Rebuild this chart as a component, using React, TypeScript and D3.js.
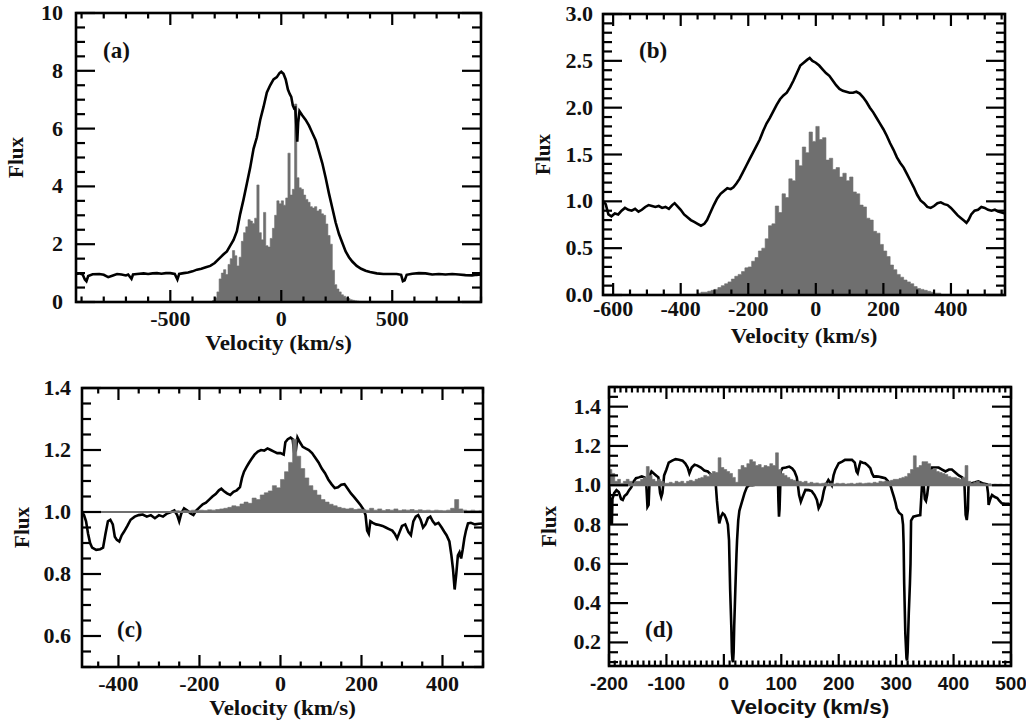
import React from 'react'
import * as d3 from 'd3'

type Pt = [number, number]

// ---- panel (a) ----
const aLine: Pt[] = [
  [-925, 0.97], [-910, 0.99], [-895, 0.95], [-885, 0.78], [-878, 0.72], [-870, 0.9], [-850, 0.96], [-820, 0.97],
  [-800, 0.94], [-780, 0.86], [-765, 0.9], [-740, 0.97], [-720, 0.95], [-700, 0.92], [-690, 0.95], [-675, 0.8],
  [-668, 0.95], [-650, 0.97], [-620, 0.99], [-600, 0.97], [-580, 0.99], [-560, 1.0], [-540, 0.98], [-520, 1.0],
  [-500, 1.0], [-480, 0.97], [-468, 0.78], [-460, 0.97], [-440, 1.0], [-420, 1.02], [-400, 1.06], [-380, 1.12],
  [-360, 1.15], [-340, 1.2], [-320, 1.25], [-300, 1.35], [-280, 1.5], [-260, 1.65], [-245, 1.75], [-230, 1.95],
  [-215, 2.15], [-200, 2.45], [-185, 3.05], [-170, 3.55], [-155, 4.1], [-140, 4.65], [-125, 5.3], [-110, 5.7],
  [-95, 6.3], [-80, 6.75], [-65, 7.25], [-50, 7.5], [-35, 7.7], [-20, 7.78], [-8, 7.92], [0, 7.97], [10, 7.9],
  [20, 7.7], [30, 7.35], [38, 7.2], [45, 7.1], [52, 6.8], [58, 6.7], [63, 6.72], [68, 6.1], [72, 5.55], [76, 6.2],
  [82, 6.6], [95, 6.45], [110, 6.3], [125, 6.1], [140, 5.85], [155, 5.6], [170, 5.2], [185, 4.8], [200, 4.3],
  [215, 3.75], [230, 3.25], [245, 2.75], [260, 2.35], [275, 2.05], [290, 1.75], [305, 1.55], [320, 1.4],
  [340, 1.25], [360, 1.15], [380, 1.08], [400, 1.04], [430, 0.99], [460, 0.97], [490, 0.97], [520, 0.97],
  [540, 0.94], [548, 0.72], [556, 0.75], [565, 0.94], [590, 0.98], [620, 1.0], [650, 0.99], [680, 0.95],
  [710, 0.97], [740, 0.95], [770, 0.97], [800, 0.95], [830, 0.93], [860, 0.92], [880, 0.94], [900, 0.95],
]
const aHistStart = -310
const aHistStep = 10
const aHist = [
  0.05, 0.15, 0.35, 0.8, 1.0, 1.12, 0.95, 1.3, 1.5, 1.78, 1.6, 1.25, 1.55, 2.1, 2.4, 2.6, 2.85, 2.8, 2.72, 2.9,
  4.05, 2.4, 2.15, 3.1, 1.95, 1.9, 2.2, 2.55, 3.0, 3.5, 3.4, 3.5, 3.35, 3.6, 5.15, 3.7, 3.9, 6.85, 4.3, 3.95,
  3.9, 3.7, 3.55, 3.45, 3.3, 3.25, 3.3, 3.15, 3.2, 3.05, 3.0, 2.7, 2.3, 2.0, 1.1, 0.6, 0.45, 0.35, 0.25, 0.2,
  0.15, 0.12, 0.08, 0.06, 0.04, 0.03, 0.02, 0.01,
]
const aXTicks = [-500, 0, 500]
const aYTicks = [0, 2, 4, 6, 8, 10]

// ---- panel (b) ----
const bLine: Pt[] = [
  [-630, 1.0], [-622, 0.97], [-614, 0.86], [-605, 0.84], [-595, 0.87], [-585, 0.86], [-575, 0.9], [-565, 0.93],
  [-555, 0.91], [-545, 0.9], [-535, 0.92], [-525, 0.89], [-515, 0.91], [-505, 0.94], [-495, 0.96], [-485, 0.95],
  [-475, 0.94], [-465, 0.95], [-455, 0.93], [-445, 0.94], [-435, 0.92], [-425, 0.96], [-418, 0.98], [-410, 0.95],
  [-400, 0.91], [-390, 0.86], [-380, 0.83], [-370, 0.8], [-360, 0.78], [-350, 0.76], [-340, 0.74], [-330, 0.76],
  [-322, 0.8], [-312, 0.88], [-302, 0.96], [-292, 1.03], [-282, 1.08], [-272, 1.11], [-262, 1.14], [-252, 1.13],
  [-244, 1.15], [-235, 1.19], [-226, 1.24], [-216, 1.31], [-206, 1.38], [-196, 1.45], [-186, 1.52], [-176, 1.59],
  [-166, 1.66], [-156, 1.75], [-146, 1.83], [-136, 1.89], [-126, 1.96], [-116, 2.03], [-106, 2.09], [-96, 2.13],
  [-86, 2.16], [-76, 2.22], [-66, 2.29], [-56, 2.37], [-46, 2.45], [-36, 2.48], [-26, 2.51], [-18, 2.53],
  [-10, 2.5], [0, 2.48], [10, 2.45], [20, 2.41], [30, 2.37], [40, 2.34], [50, 2.29], [60, 2.24], [70, 2.2],
  [80, 2.18], [90, 2.17], [100, 2.16], [110, 2.16], [120, 2.17], [130, 2.15], [140, 2.11], [150, 2.06],
  [160, 2.0], [170, 1.95], [180, 1.89], [190, 1.83], [200, 1.77], [210, 1.7], [220, 1.62], [230, 1.55],
  [240, 1.47], [250, 1.41], [260, 1.36], [270, 1.29], [280, 1.22], [290, 1.15], [300, 1.07], [310, 1.01],
  [320, 0.98], [330, 0.94], [340, 0.93], [350, 0.95], [360, 0.98], [370, 0.99], [380, 0.97], [390, 0.96],
  [400, 0.93], [410, 0.89], [420, 0.85], [430, 0.82], [440, 0.79], [446, 0.77], [452, 0.8], [460, 0.86],
  [470, 0.9], [480, 0.91], [490, 0.94], [500, 0.93], [510, 0.91], [520, 0.9], [530, 0.91], [540, 0.89],
  [550, 0.88], [560, 0.87],
]
const bHistStart = -350
const bHistStep = 10
const bHist = [
  0.02, 0.03, 0.03, 0.04, 0.05, 0.06, 0.08, 0.1, 0.12, 0.14, 0.17, 0.2, 0.22, 0.25, 0.29,
  0.3, 0.36, 0.4, 0.47, 0.5, 0.6, 0.74, 0.76, 0.95, 0.88, 1.08, 1.04, 1.24, 1.22, 1.44,
  1.38, 1.58, 1.52, 1.74, 1.64, 1.8, 1.66, 1.68, 1.44, 1.46, 1.34, 1.36, 1.26, 1.3, 1.22,
  1.26, 1.1, 1.08, 0.96, 0.94, 0.82, 0.8, 0.68, 0.66, 0.54, 0.47, 0.41, 0.32, 0.27, 0.22,
  0.19, 0.16, 0.14, 0.12, 0.09, 0.07, 0.06, 0.05, 0.04, 0.03, 0.02, 0.02,
]
const bXTicks = [-600, -400, -200, 0, 200, 400]
const bYTicks = [0, 0.5, 1.0, 1.5, 2.0, 2.5, 3.0]

// ---- panel (c) ----
const cLine: Pt[] = [
  [-490, 1.0], [-485, 0.99], [-480, 0.97], [-475, 0.93], [-470, 0.9], [-465, 0.885], [-455, 0.878], [-445, 0.88],
  [-438, 0.885], [-432, 0.93], [-426, 0.97], [-420, 0.975], [-414, 0.96], [-409, 0.92], [-404, 0.91], [-398, 0.905],
  [-392, 0.925], [-386, 0.937], [-378, 0.955], [-370, 0.975], [-360, 0.985], [-350, 0.99], [-340, 0.992],
  [-330, 0.985], [-320, 0.99], [-310, 0.98], [-300, 0.99], [-290, 0.985], [-280, 0.995], [-270, 1.0],
  [-262, 1.005], [-255, 0.99], [-250, 0.97], [-245, 0.995], [-238, 1.012], [-230, 1.005], [-222, 0.995],
  [-215, 0.99], [-208, 1.005], [-200, 1.015], [-192, 1.025], [-184, 1.03], [-176, 1.04], [-168, 1.05],
  [-160, 1.058], [-152, 1.07], [-146, 1.075], [-140, 1.068], [-132, 1.06], [-124, 1.055], [-116, 1.065],
  [-108, 1.07], [-100, 1.08], [-95, 1.11], [-90, 1.13], [-84, 1.145], [-78, 1.158], [-72, 1.17], [-64, 1.185],
  [-56, 1.195], [-48, 1.2], [-40, 1.198], [-32, 1.205], [-24, 1.2], [-16, 1.195], [-8, 1.19], [0, 1.19],
  [8, 1.185], [12, 1.225], [18, 1.235], [25, 1.24], [30, 1.235], [34, 1.19], [38, 1.2], [42, 1.24], [48, 1.225],
  [55, 1.21], [62, 1.205], [70, 1.2], [78, 1.19], [86, 1.175], [94, 1.16], [102, 1.14], [110, 1.125],
  [118, 1.105], [126, 1.09], [134, 1.077], [142, 1.08], [150, 1.088], [158, 1.09], [166, 1.075], [174, 1.06],
  [182, 1.048], [190, 1.035], [198, 1.022], [205, 1.008], [210, 0.99], [214, 0.94], [218, 0.93], [222, 0.97],
  [228, 0.965], [236, 0.96], [244, 0.958], [252, 0.955], [260, 0.95], [268, 0.945], [276, 0.94], [282, 0.93],
  [288, 0.915], [294, 0.935], [300, 0.955], [308, 0.96], [316, 0.935], [322, 0.925], [328, 0.97], [334, 0.985],
  [340, 0.99], [346, 0.975], [352, 0.95], [358, 0.96], [364, 0.98], [370, 0.985], [376, 0.97], [382, 0.96],
  [390, 0.965], [398, 0.95], [404, 0.937], [410, 0.925], [417, 0.905], [422, 0.86], [426, 0.815], [430, 0.75],
  [434, 0.8], [438, 0.86], [442, 0.87], [446, 0.85], [450, 0.88], [454, 0.915], [458, 0.94], [463, 0.963],
  [470, 0.965], [480, 0.96], [490, 0.962], [500, 0.963],
]
const cHistStart = -270
const cHistStep = 10
const cHist = [
  1.003, 1.004, 1.003, 1.005, 1.004, 1.006, 1.005, 1.006, 1.005, 1.007,
  1.006, 1.008, 1.01, 1.012, 1.015, 1.02, 1.018, 1.026, 1.032, 1.028,
  1.045, 1.04, 1.055, 1.062, 1.068, 1.085, 1.078, 1.105, 1.13, 1.16,
  1.235, 1.18, 1.14, 1.11, 1.085, 1.07, 1.055, 1.04, 1.032, 1.025,
  1.02, 1.015, 1.012, 1.01, 1.012, 1.008, 1.01, 1.008, 1.006, 1.012,
  1.006, 1.01, 1.005, 1.008, 1.006, 1.01, 1.005, 1.007, 1.006, 1.008,
  1.005, 1.007, 1.005, 1.006, 1.004, 1.006, 1.005, 1.004, 1.006, 1.012,
  1.04, 1.01, 1.006, 1.004, 1.006, 1.004, 1.005,
]
const cXTicks = [-400, -200, 0, 200, 400]
const cYTicks = [0.6, 0.8, 1.0, 1.2, 1.4]

// ---- panel (d) ----
const dLine: Pt[] = [
  [-200, 1.0], [-198, 0.93], [-197, 0.8], [-196, 0.85], [-195, 0.8], [-194, 0.93], [-191, 0.96], [-187, 0.975],
  [-183, 0.965], [-179, 0.93], [-176, 0.925], [-173, 0.945], [-169, 0.955], [-165, 0.975], [-161, 0.99],
  [-157, 1.02], [-153, 1.036], [-148, 1.04], [-143, 1.045], [-138, 1.04], [-135, 1.0], [-133, 0.89], [-131, 0.9],
  [-129, 1.05], [-126, 1.07], [-122, 1.06], [-118, 1.05], [-114, 1.04], [-111, 0.96], [-109, 0.94], [-107, 0.96],
  [-104, 1.05], [-100, 1.08], [-96, 1.115], [-90, 1.125], [-84, 1.133], [-78, 1.13], [-72, 1.125], [-67, 1.11],
  [-63, 1.09], [-60, 1.061], [-56, 1.09], [-51, 1.104], [-46, 1.1], [-40, 1.09], [-34, 1.075], [-28, 1.07],
  [-22, 1.053], [-17, 1.04], [-14, 1.0], [-12, 0.92], [-10, 0.86], [-8, 0.806], [-5, 0.84], [-2, 0.857],
  [1, 0.85], [4, 0.83], [7, 0.8], [9, 0.72], [11, 0.465], [13, 0.28], [14, 0.15], [15, 0.11], [16, 0.1],
  [17, 0.15], [18, 0.28], [20, 0.47], [22, 0.65], [23, 0.72], [25, 0.82], [27, 0.87], [31, 0.91], [36, 0.96],
  [40, 0.99], [44, 1.0], [50, 1.0], [60, 1.005], [70, 1.01], [80, 1.03], [86, 1.06], [90, 1.07], [94, 1.06],
  [95, 0.92], [96, 0.84], [97, 0.88], [99, 1.07], [102, 1.087], [108, 1.09], [114, 1.095], [119, 1.085],
  [123, 1.07], [127, 1.04], [129, 1.0], [131, 0.95], [134, 0.916], [137, 0.94], [142, 0.976], [148, 0.975],
  [153, 0.97], [158, 0.95], [162, 0.925], [165, 0.883], [168, 0.9], [171, 0.925], [174, 0.97], [177, 1.0],
  [182, 1.027], [186, 1.01], [188, 1.0], [191, 1.05], [194, 1.078], [200, 1.112], [206, 1.12], [211, 1.129],
  [217, 1.13], [223, 1.129], [228, 1.115], [231, 1.07], [233, 1.061], [236, 1.1], [238, 1.12], [242, 1.115],
  [246, 1.112], [251, 1.1], [255, 1.087], [258, 1.06], [261, 1.044], [265, 1.045], [269, 1.044], [275, 1.04],
  [281, 1.036], [286, 1.02], [290, 1.0], [293, 0.97], [296, 0.942], [299, 0.91], [301, 0.883], [305, 0.86],
  [310, 0.848], [312, 0.8], [313, 0.704], [314, 0.5], [316, 0.244], [318, 0.12], [319, 0.108], [320, 0.15],
  [322, 0.347], [324, 0.5], [325, 0.6], [326, 0.82], [330, 0.84], [336, 0.845], [342, 0.848], [344, 0.95],
  [345, 1.0], [348, 1.0], [350, 0.93], [352, 0.92], [354, 0.95], [356, 1.0], [360, 1.07], [362, 1.09],
  [368, 1.09], [374, 1.09], [380, 1.08], [386, 1.07], [392, 1.08], [397, 1.08], [403, 1.065], [409, 1.05],
  [415, 1.04], [419, 1.0], [421, 0.85], [423, 0.823], [425, 0.88], [426, 1.0], [432, 1.01], [438, 1.015],
  [443, 1.02], [450, 1.01], [458, 1.005], [460, 0.96], [461, 0.9], [464, 0.93], [467, 0.95], [472, 0.94],
  [476, 0.935], [480, 0.92], [484, 0.908], [490, 0.905], [496, 0.905], [500, 0.9],
]
const dHistStart = -200
const dHistStep = 5
const dHist = [
  1.08, 1.06, 1.02, 1.03, 1.01, 1.02, 1.03, 1.02, 1.01, 1.02,
  1.02, 1.03, 1.04, 1.095, 1.05, 1.03, 1.02, 1.03, 1.02, 1.01,
  1.01, 1.015, 1.01, 1.02, 1.015, 1.02, 1.01, 1.02, 1.025, 1.02,
  1.03, 1.035, 1.04, 1.05, 1.045, 1.06, 1.07, 1.065, 1.14, 1.09,
  1.08, 1.07, 1.06, 1.04, 1.015, 1.08, 1.1, 1.09, 1.11, 1.13,
  1.12, 1.1, 1.105, 1.09, 1.1, 1.095, 1.11, 1.1, 1.165, 1.08,
  1.06, 1.05, 1.04, 1.03, 1.025, 1.02, 1.02, 1.015, 1.02, 1.01,
  1.015, 1.01, 1.012, 1.008, 1.01, 1.012, 1.008, 1.01, 1.006, 1.01,
  1.008, 1.01, 1.006, 1.008, 1.01, 1.006, 1.01, 1.012, 1.008, 1.01,
  1.012, 1.01, 1.015, 1.012, 1.02, 1.018, 1.022, 1.02, 1.025, 1.03,
  1.03, 1.035, 1.04, 1.045, 1.06, 1.08, 1.15, 1.09, 1.1, 1.12,
  1.12, 1.11, 1.08, 1.085, 1.07, 1.065, 1.06, 1.055, 1.045, 1.04,
  1.04, 1.035, 1.03, 1.04, 1.1, 1.02, 1.01, 1.015, 1.02, 1.01,
  1.008, 1.006, 1.008, 1.005, 1.006, 1.005, 1.006, 1.004, 1.005, 1.004,
]
const dXTicks = [-200, -100, 0, 100, 200, 300, 400, 500]
const dYTicks = [0.2, 0.4, 0.6, 0.8, 1.0, 1.2, 1.4]

const SERIF = "'Liberation Serif', 'Times New Roman', serif"
const SANS = "'Liberation Sans', Arial, sans-serif"
const GRAY = '#6f6f6f'
const INK = '#111'

type PanelCfg = {
  id: string
  label: string
  box: { x0: number; y0: number; x1: number; y1: number }
  xDomain: [number, number]
  yDomain: [number, number]
  xTicks: number[]
  xMinor: number
  yTicks: number[]
  yMinor: number
  yFmt: (v: number) => string
  line: Pt[]
  hist: number[]
  histStart: number
  histStep: number
  histBase: number
  grayOnTop: boolean
  sans: boolean
  labelAt: [number, number]
  yGap: number
  xGap: number
}

const PANELS: PanelCfg[] = [
  {
    id: 'a', label: '(a)', box: { x0: 76, y0: 13, x1: 481, y1: 302 },
    xDomain: [-925, 900], yDomain: [0, 10], xTicks: aXTicks, xMinor: 100, yTicks: aYTicks, yMinor: 0.5,
    yFmt: v => String(v), line: aLine, hist: aHist, histStart: aHistStart, histStep: aHistStep, histBase: 0,
    grayOnTop: false, sans: false, labelAt: [103, 58], yGap: 13, xGap: 24,
  },
  {
    id: 'b', label: '(b)', box: { x0: 603, y0: 14, x1: 1005, y1: 295 },
    xDomain: [-630, 560], yDomain: [0, 3], xTicks: bXTicks, xMinor: 50, yTicks: bYTicks, yMinor: 0.1,
    yFmt: v => v.toFixed(1), line: bLine, hist: bHist, histStart: bHistStart, histStep: bHistStep, histBase: 0,
    grayOnTop: false, sans: false, labelAt: [639, 58], yGap: 10, xGap: 21,
  },
  {
    id: 'c', label: '(c)', box: { x0: 82, y0: 388, x1: 483, y1: 667 },
    xDomain: [-490, 500], yDomain: [0.5, 1.4], xTicks: cXTicks, xMinor: 50, yTicks: cYTicks, yMinor: 0.05,
    yFmt: v => v.toFixed(1), line: cLine, hist: cHist, histStart: cHistStart, histStep: cHistStep, histBase: 1.0,
    grayOnTop: true, sans: false, labelAt: [117, 637], yGap: 11, xGap: 24,
  },
  {
    id: 'd', label: '(d)', box: { x0: 609, y0: 387, x1: 1011, y1: 666 },
    xDomain: [-200, 500], yDomain: [0.08, 1.5], xTicks: dXTicks, xMinor: 10, yTicks: dYTicks, yMinor: 0.05,
    yFmt: v => v.toFixed(1), line: dLine, hist: dHist, histStart: dHistStart, histStep: dHistStep, histBase: 1.0,
    grayOnTop: true, sans: true, labelAt: [645, 637], yGap: 8, xGap: 24,
  },
]

// every multiple of step inside the domain
function stepValues(domain: [number, number], step: number): number[] {
  const k0 = Math.ceil(domain[0] / step - 1e-6)
  const k1 = Math.floor(domain[1] / step + 1e-6)
  return d3.range(k0, k1 + 1).map(k => Math.round(k * step * 1e6) / 1e6)
}

// text stretched horizontally a little, the original lettering is wide
function WideText({ x, y, sx, anchor, size, family, children }: {
  x: number; y: number; sx: number; anchor: 'start' | 'middle' | 'end'; size: number; family: string; children: React.ReactNode
}) {
  return (
    <text transform={`translate(${x},${y}) scale(${sx},1)`} textAnchor={anchor} fontFamily={family}
      fontWeight="bold" fontSize={size} fill={INK}>{children}</text>
  )
}

type Seg = { k: string; x1: number; y1: number; x2: number; y2: number }

function Panel({ p }: { p: PanelCfg }) {
  const { x0, y0, x1, y1 } = p.box
  const x = d3.scaleLinear().domain(p.xDomain).range([x0, x1])
  const y = d3.scaleLinear().domain(p.yDomain).range([y1, y0])

  const histPts: Pt[] = p.hist.map((v, i) => [p.histStart + i * p.histStep, v] as Pt)
  histPts.push([p.histStart + p.hist.length * p.histStep, p.hist[p.hist.length - 1]])
  const area = d3.area<Pt>()
    .x(d => x(d[0]))
    .y0(y(p.histBase))
    .y1(d => y(d[1]))
    .curve(d3.curveStepAfter)
  const line = d3.line<Pt>().x(d => x(d[0])).y(d => y(d[1]))

  // y ticks are long in the original, x ticks shorter
  const XMAJ = 12, XMIN = 5.5, YMAJ = 19, YMIN = 9
  const isMajX = (v: number) => p.xTicks.some(t => Math.abs(t - v) < 1e-6)
  const isMajY = (v: number) => p.yTicks.some(t => Math.abs(t - v) < 1e-6)

  const segs: Seg[] = []
  stepValues(p.xDomain, p.xMinor).forEach(v => {
    const len = isMajX(v) ? XMAJ : XMIN
    const px = x(v)
    segs.push({ k: `xb${v}`, x1: px, y1: y1, x2: px, y2: y1 - len })
    segs.push({ k: `xt${v}`, x1: px, y1: y0, x2: px, y2: y0 + len })
  })
  stepValues(p.yDomain, p.yMinor).forEach(v => {
    const len = isMajY(v) ? YMAJ : YMIN
    const py = y(v)
    segs.push({ k: `yl${v}`, x1: x0, y1: py, x2: x0 + len, y2: py })
    segs.push({ k: `yr${v}`, x1: x1, y1: py, x2: x1 - len, y2: py })
  })

  const grayEls = (
    <g clipPath={`url(#clip-${p.id})`}>
      <path d={area(histPts) || ''} fill={GRAY} stroke={GRAY} strokeWidth={0.6} />
      {p.histBase > p.yDomain[0] && (
        <line x1={x0} x2={x1} y1={y(p.histBase)} y2={y(p.histBase)} stroke={GRAY} strokeWidth={2} />
      )}
    </g>
  )
  const lineEl = (
    <g clipPath={`url(#clip-${p.id})`}>
      <path d={line(p.line) || ''} fill="none" stroke="#000" strokeWidth={2.6} />
    </g>
  )

  const xFamily = p.sans ? SANS : SERIF
  const titleSize = p.sans ? 21 : 20

  return (
    <g>
      <defs>
        <clipPath id={`clip-${p.id}`}>
          <rect x={x0} y={y0} width={x1 - x0} height={y1 - y0} />
        </clipPath>
      </defs>
      {p.grayOnTop ? lineEl : grayEls}
      {p.grayOnTop ? grayEls : lineEl}

      {segs.map(s => (
        <line key={s.k} x1={s.x1} y1={s.y1} x2={s.x2} y2={s.y2} stroke="#000" strokeWidth={2.2} />
      ))}
      <rect x={x0} y={y0} width={x1 - x0} height={y1 - y0} fill="none" stroke="#000" strokeWidth={2.6} />

      {p.yTicks.map(v => (
        <WideText key={`ylab${v}`} x={x0 - p.yGap} y={y(v) + 7} sx={1.1} anchor="end" size={20} family={SERIF}>
          {p.yFmt(v)}
        </WideText>
      ))}
      {p.xTicks.map(v => (
        <WideText key={`xlab${v}`} x={x(v)} y={y1 + p.xGap} sx={p.sans ? 1.05 : 1.1} anchor="middle"
          size={p.sans ? 18 : 20} family={xFamily}>{String(v)}</WideText>
      ))}

      <WideText x={(x0 + x1) / 2} y={y1 + 48} sx={p.sans ? 1.08 : 1.15} anchor="middle" size={titleSize}
        family={xFamily}>Velocity (km/s)</WideText>
      <text transform={`translate(${x0 - 53},${(y0 + y1) / 2}) rotate(-90)`} textAnchor="middle"
        fontFamily={SERIF} fontWeight="bold" fontSize={21} fill={INK}>Flux</text>

      <text x={p.labelAt[0]} y={p.labelAt[1]} fontFamily={SERIF} fontWeight="bold" fontSize={23} fill={INK}>
        {p.label}
      </text>
    </g>
  )
}

export default function App() {
  return (
    <>
      <style>{'body{margin:0;background:#fff}'}</style>
      <svg width={1026} height={725} style={{ display: 'block', background: '#fff' }}>
        {PANELS.map(p => <Panel key={p.id} p={p} />)}
      </svg>
    </>
  )
}
